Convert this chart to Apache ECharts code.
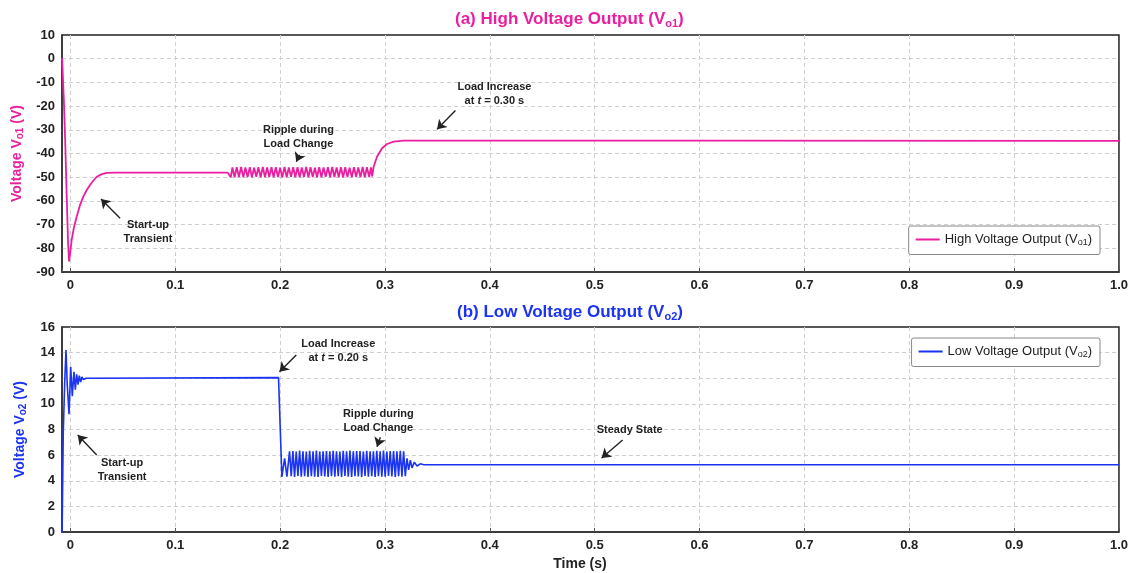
<!DOCTYPE html>
<html>
<head>
<meta charset="utf-8">
<title>High / Low voltage output</title>
<script src="https://cdn.jsdelivr.net/npm/echarts@6/dist/echarts.min.js"></script>
<style>
    html, body { margin: 0; padding: 0; background: #fff; }
    #chart { width: 1131px; height: 573px; }
</style>
</head>
<body>
<div id="chart"></div>
<script>
// waveform samples, [time (s), voltage (V)]
const vo1Startup = [
    [-0.0079, 0.3], [-0.0075, 0.6], [-0.0062, -18], [-0.0050, -34], [-0.0035, -58],
    [-0.0022, -78], [-0.0013, -85.5], [-0.0002, -82], [0.0012, -76.5], [0.0035, -71],
    [0.0060, -66.7], [0.0090, -62], [0.0123, -58.2], [0.0155, -55.5], [0.0187, -53.3],
    [0.0220, -51.4], [0.0251, -49.8], [0.0300, -48.7], [0.0347, -48.2], [0.0420, -48.1],
    [0.1500, -48.1], [0.1518, -48.4], [0.1530, -50.0]
];
const vo1Ripple = [
    [0.1545, -45.9], [0.1566, -50.0], [0.1586, -45.8], [0.1607, -49.9],
    [0.1628, -45.7], [0.1649, -50.1], [0.1669, -45.9], [0.1690, -49.9],
    [0.1711, -45.8], [0.1731, -50.0], [0.1752, -46.0], [0.1773, -49.8],
    [0.1793, -45.8], [0.1814, -50.0], [0.1835, -45.7], [0.1856, -50.1],
    [0.1876, -45.9], [0.1897, -49.9], [0.1918, -45.8], [0.1938, -50.0],
    [0.1959, -45.8], [0.1980, -49.9], [0.2000, -46.0], [0.2021, -50.1],
    [0.2042, -45.7], [0.2063, -50.0], [0.2083, -45.9], [0.2104, -49.8],
    [0.2125, -45.8], [0.2145, -50.0], [0.2166, -45.8], [0.2187, -50.1],
    [0.2207, -45.9], [0.2228, -49.9], [0.2249, -45.7], [0.2270, -50.0],
    [0.2290, -45.8], [0.2311, -49.9], [0.2332, -46.0], [0.2352, -50.0],
    [0.2373, -45.8], [0.2394, -50.1], [0.2414, -45.9], [0.2435, -49.8],
    [0.2456, -45.8], [0.2477, -50.0], [0.2497, -45.7], [0.2518, -49.9],
    [0.2539, -45.9], [0.2559, -50.0], [0.2580, -45.8], [0.2601, -50.1],
    [0.2621, -45.8], [0.2642, -49.9], [0.2663, -46.0], [0.2684, -50.0],
    [0.2704, -45.8], [0.2725, -49.8], [0.2746, -45.9], [0.2766, -50.0],
    [0.2787, -45.7], [0.2808, -50.1], [0.2828, -45.8], [0.2849, -49.9]
];
const vo1Step = [
    [0.2866, -45.9], [0.2878, -49.6], [0.2892, -45.6], [0.2924, -41.4], [0.2972, -37.8],
    [0.3020, -36.0], [0.3083, -35.0], [0.3178, -34.6], [0.6000, -34.6], [1.0000, -34.7]
];

const vo2Startup = [
    [-0.0079, 0], [-0.0068, 7.7], [-0.0055, 11.5], [-0.0042, 14.2], [-0.0030, 11.5],
    [-0.0013, 9.2], [0.0003, 12.9], [0.0018, 10.6], [0.0034, 12.5], [0.0047, 11.1],
    [0.0060, 12.3], [0.0073, 11.5], [0.0085, 12.2], [0.0098, 11.7], [0.0110, 12.1],
    [0.0123, 11.9], [0.0150, 12.0], [0.1985, 12.05]
];
const vo2Drop = [
    [0.2017, 4.3], [0.2043, 5.75], [0.2065, 4.32]
];
const vo2Ripple = [
    [0.2090, 6.30], [0.2106, 4.35], [0.2122, 6.32], [0.2138, 4.30],
    [0.2154, 6.28], [0.2170, 4.38], [0.2186, 6.35], [0.2202, 4.32],
    [0.2218, 6.30], [0.2234, 4.35], [0.2250, 6.28], [0.2266, 4.30],
    [0.2282, 6.33], [0.2298, 4.36], [0.2314, 6.30], [0.2330, 4.32],
    [0.2346, 6.35], [0.2362, 4.30], [0.2378, 6.28], [0.2394, 4.38],
    [0.2410, 6.30], [0.2426, 4.33], [0.2442, 6.32], [0.2458, 4.30],
    [0.2474, 6.29], [0.2490, 4.36], [0.2506, 6.34], [0.2522, 4.32],
    [0.2538, 6.30], [0.2554, 4.35], [0.2570, 6.28], [0.2586, 4.30],
    [0.2602, 6.33], [0.2618, 4.37], [0.2634, 6.30], [0.2650, 4.32],
    [0.2666, 6.35], [0.2682, 4.30], [0.2698, 6.29], [0.2714, 4.36],
    [0.2730, 6.31], [0.2746, 4.33], [0.2762, 6.32], [0.2778, 4.30],
    [0.2794, 6.28], [0.2810, 4.37], [0.2826, 6.34], [0.2842, 4.32],
    [0.2858, 6.30], [0.2874, 4.35], [0.2890, 6.29], [0.2906, 4.30],
    [0.2922, 6.33], [0.2938, 4.36], [0.2954, 6.30], [0.2970, 4.32],
    [0.2986, 6.35], [0.3002, 4.31], [0.3018, 6.28], [0.3034, 4.37],
    [0.3050, 6.31], [0.3066, 4.33], [0.3082, 6.32], [0.3098, 4.30],
    [0.3114, 6.29], [0.3130, 4.36], [0.3146, 6.33], [0.3162, 4.32],
    [0.3178, 6.30], [0.3194, 4.35]
];
const vo2Settle = [
    [0.3210, 5.75], [0.3226, 4.84], [0.3242, 5.60], [0.3258, 5.00], [0.3280, 5.45],
    [0.3305, 5.15], [0.3337, 5.32], [0.3370, 5.25], [0.6000, 5.25], [1.0000, 5.25]
];

// annotations (data coordinates)
const vo1Notes = [
    { name: 'Start-up\nTransient', coord: [0.074, -73.1] },
    { name: 'Ripple during\nLoad Change', coord: [0.2175, -33.2] },
    { name: 'Load Increase\nat {i|t} = 0.30 s', coord: [0.4044, -14.9] }
];
const vo1Arrows = [
    [[0.0474, -67.3], [0.0292, -59.2]],
    [[0.2186, -40.6], [0.2154, -43.5]],
    [[0.3672, -21.9], [0.3497, -29.8]]
];
const vo2Notes = [
    { name: 'Start-up\nTransient', coord: [0.0493, 4.82] },
    { name: 'Load Increase\nat {i|t} = 0.20 s', coord: [0.2555, 14.13] },
    { name: 'Ripple during\nLoad Change', coord: [0.2937, 8.70] },
    { name: 'Steady State', coord: [0.5334, 7.96] }
];
const vo2Arrows = [
    [[0.0251, 6.01], [0.0070, 7.57]],
    [[0.2154, 13.82], [0.1994, 12.51]],
    [[0.2956, 7.39], [0.2924, 6.66]],
    [[0.5267, 7.18], [0.5066, 5.78]]
];

const PINK = '#ea1fa0';
const BLUE = '#1b33f2';
const FONT = '"Liberation Sans", Arial, sans-serif';
const INK = '#222';

const vo1Data = vo1Startup.concat(vo1Ripple, vo1Step);
const vo2Data = vo2Startup.concat(vo2Drop, vo2Ripple, vo2Settle);

function subRich(size, color, weight, drop) {
    return {
        sub: { fontSize: size, fontWeight: weight, color: color, fontFamily: FONT,
               verticalAlign: 'bottom', padding: [drop, 0, 0, 0] }
    };
}

function timeLabel(v) {
    if (v < -0.001) return '';
    if (Math.abs(v) < 1e-9) return '0';
    return v.toFixed(1);
}

const gridDash = { color: '#cfcfcf', type: [4, 3], width: 1 };

function xAxisFor(gridIndex, withName) {
    return {
        type: 'value', gridIndex: gridIndex,
        min: -0.008, max: 1.0, splitNumber: 10,
        axisLine: { show: true, onZero: false, lineStyle: { color: '#333', width: 1.5 } },
        axisTick: { show: true, inside: true, length: 4, lineStyle: { color: '#555' } },
        axisLabel: { formatter: timeLabel, color: INK, fontWeight: 'bold', fontSize: 13,
                     fontFamily: FONT, margin: 7 },
        splitLine: { show: true, showMinLine: false, showMaxLine: false, lineStyle: gridDash },
        name: withName ? 'Time (s)' : '',
        nameLocation: 'middle', nameGap: 25,
        nameTextStyle: { color: INK, fontWeight: 'bold', fontSize: 14, fontFamily: FONT,
                         padding: [0, 21, 0, 0] }
    };
}

function yAxisFor(gridIndex, min, max, step, color, sub) {
    return {
        type: 'value', gridIndex: gridIndex,
        min: min, max: max, interval: step,
        axisLine: { show: true, onZero: false, lineStyle: { color: '#333', width: 1.5 } },
        axisTick: { show: false },
        axisLabel: { color: INK, fontWeight: 'bold', fontSize: 13, fontFamily: FONT, margin: 7 },
        splitLine: { show: true, showMinLine: false, showMaxLine: false, lineStyle: gridDash },
        name: 'Voltage V{sub|' + sub + '} (V)',
        nameLocation: 'middle', nameGap: 34,
        nameTextStyle: { color: color, fontWeight: 'bold', fontSize: 14, fontFamily: FONT,
                         rich: subRich(10, color, 'bold', 6) }
    };
}

function notes(list, arrows) {
    return {
        markPoint: {
            silent: true,
            symbol: 'rect', symbolSize: 1,
            itemStyle: { color: 'transparent' },
            label: {
                show: true, position: 'inside',
                formatter: p => p.name,
                color: INK, fontWeight: 'bold', fontSize: 11, fontFamily: FONT, lineHeight: 14,
                rich: { i: { fontStyle: 'italic', fontWeight: 'bold', fontSize: 11,
                             fontFamily: FONT, color: INK, lineHeight: 14 } }
            },
            data: list.map(n => ({ name: n.name, coord: n.coord }))
        },
        markLine: {
            silent: true,
            symbol: ['none', 'arrow'], symbolSize: 9,
            lineStyle: { color: INK, width: 1.4, type: 'solid' },
            label: { show: false },
            data: arrows.map(a => [{ coord: a[0] }, { coord: a[1] }])
        }
    };
}

function legendFor(name, label, top, color) {
    return {
        data: [name],
        right: 31, top: top,
        orient: 'vertical',
        padding: [7, 8, 7, 7],
        icon: 'rect',
        itemWidth: 24, itemHeight: 2,
        itemStyle: { color: color },
        backgroundColor: '#fff',
        borderColor: '#888', borderWidth: 1, borderRadius: 2,
        formatter: () => label,
        textStyle: { color: INK, fontSize: 13, fontFamily: FONT,
                     rich: subRich(9, INK, 'normal', 7) }
    };
}

const chart = echarts.init(document.getElementById('chart'));

chart.setOption({
    animation: false,
    backgroundColor: '#fff',
    textStyle: { fontFamily: FONT },
    title: [
        {
            text: '(a) High Voltage Output (V{sub|o1})',
            left: 455, top: 10, padding: 0,
            textStyle: { color: PINK, fontSize: 17, fontWeight: 'bold', fontFamily: FONT,
                         rich: subRich(11, PINK, 'bold', 8) }
        },
        {
            text: '(b) Low Voltage Output (V{sub|o2})',
            left: 457, top: 303, padding: 0,
            textStyle: { color: BLUE, fontSize: 17, fontWeight: 'bold', fontFamily: FONT,
                         rich: subRich(11, BLUE, 'bold', 8) }
        }
    ],
    legend: [
        legendFor('High Voltage Output', 'High Voltage Output (V{sub|o1})', 226, PINK),
        legendFor('Low Voltage Output', 'Low Voltage Output (V{sub|o2})', 338, BLUE)
    ],
    grid: [
        { left: 62, right: 12, top: 35, height: 237, show: true,
          borderColor: '#222', borderWidth: 1.5, backgroundColor: '#fff' },
        { left: 62, right: 12, top: 327, height: 205, show: true,
          borderColor: '#222', borderWidth: 1.5, backgroundColor: '#fff' }
    ],
    xAxis: [xAxisFor(0, false), xAxisFor(1, true)],
    yAxis: [
        yAxisFor(0, -90, 10, 10, PINK, 'o1'),
        yAxisFor(1, 0, 16, 2, BLUE, 'o2')
    ],
    series: [
        Object.assign({
            name: 'High Voltage Output', type: 'line',
            xAxisIndex: 0, yAxisIndex: 0,
            data: vo1Data,
            symbol: 'none', showSymbol: false,
            lineStyle: { color: PINK, width: 1.8 },
            itemStyle: { color: PINK },
            z: 3
        }, notes(vo1Notes, vo1Arrows)),
        Object.assign({
            name: 'Low Voltage Output', type: 'line',
            xAxisIndex: 1, yAxisIndex: 1,
            data: vo2Data,
            symbol: 'none', showSymbol: false,
            lineStyle: { color: BLUE, width: 1.6 },
            itemStyle: { color: BLUE },
            z: 3
        }, notes(vo2Notes, vo2Arrows))
    ]
});
</script>
</body>
</html>
